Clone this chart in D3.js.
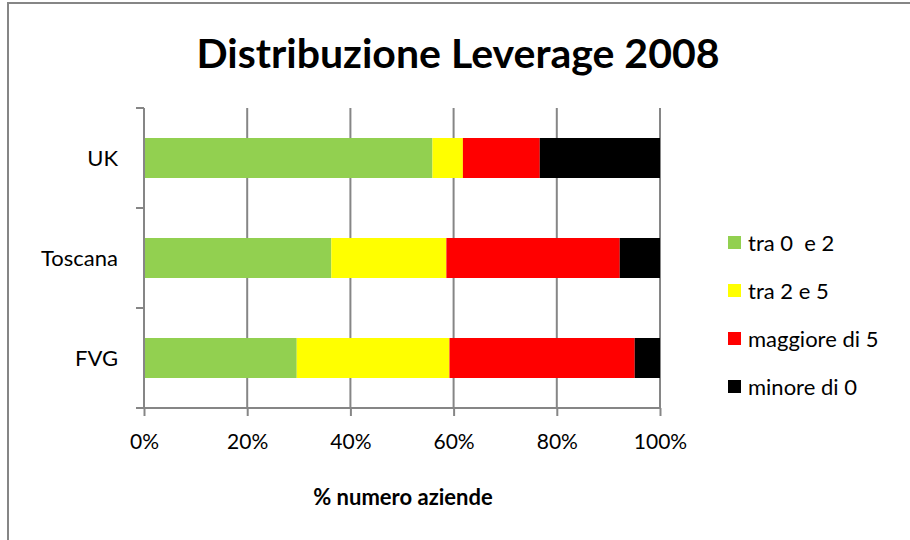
<!DOCTYPE html>
<html lang="en">
<head>
	<meta charset="UTF-8">
	<title>Distribuzione Leverage 2008</title>
	<script src="https://cdn.jsdelivr.net/npm/d3@7/dist/d3.min.js"></script>
	<style>
		body { margin: 0; background: #fff; }
		text { font-family: Lato, "Open Sans", sans-serif; fill: #000; }
	</style>
</head>
<body>
	<div id="vis"></div>

	<script>
		var width = 910;
		var height = 540;

		// data (share of firms, %)
		var categories = ["UK", "Toscana", "FVG"];
		var seriesNames = ["tra 0  e 2", "tra 2 e 5", "maggiore di 5", "minore di 0"];
		var seriesColors = ["#92d050", "#ffff00", "#ff0000", "#000000"];
		var tra0e2 = [55.9, 36.3, 29.6];
		var tra2e5 = [5.9, 22.3, 29.6];
		var maggiore5 = [14.9, 33.6, 35.9];
		var minore0 = [23.3, 7.8, 4.9];
		var xTicks = [0, 20, 40, 60, 80, 100];

		var seriesValues = [tra0e2, tra2e5, maggiore5, minore0];

		var svg = d3.select("#vis").append("svg")
				.attr("width", width)
				.attr("height", height);

		// outer chart frame (only top/left visible)
		svg.append("rect")
			.attr("x", 8)
			.attr("y", 3)
			.attr("width", 940)
			.attr("height", 580)
			.attr("fill", "none")
			.attr("stroke", "#868686")
			.attr("stroke-width", 2);

		var plot = { left: 144, right: 660, top: 108, bottom: 408 };

		var x = d3.scaleLinear()
				.domain([0, 100])
				.range([plot.left, plot.right]);

		var y = d3.scaleBand()
				.domain(categories)
				.range([plot.top, plot.bottom])
				.paddingInner(0.6)
				.paddingOuter(0.3);

		// vertical grid lines
		svg.append("g")
			.selectAll("line")
			.data(xTicks)
			.enter().append("line")
			.attr("x1", function(d) { return x(d); })
			.attr("x2", function(d) { return x(d); })
			.attr("y1", plot.top)
			.attr("y2", plot.bottom)
			.attr("stroke", "#868686")
			.attr("stroke-width", 2);

		// stack the series
		var rows = categories.map(function(c, i) {
			var r = { cat: c };
			seriesNames.forEach(function(s, j) { r[s] = seriesValues[j][i]; });
			return r;
		});
		var stacked = d3.stack().keys(seriesNames)(rows);

		svg.append("g")
			.selectAll("g")
			.data(stacked)
			.enter().append("g")
			.attr("fill", function(d, i) { return seriesColors[i]; })
			.selectAll("rect")
			.data(function(d) { return d; })
			.enter().append("rect")
			.attr("x", function(d) { return x(d[0]); })
			.attr("width", function(d) { return x(d[1]) - x(d[0]); })
			.attr("y", function(d) { return y(d.data.cat); })
			.attr("height", y.bandwidth());

		// x axis
		var xAxis = svg.append("g")
			.attr("transform", "translate(0," + plot.bottom + ")")
			.call(d3.axisBottom(x)
				.tickValues(xTicks)
				.tickSize(8)
				.tickPadding(18)
				.tickFormat(function(d) { return d + "%"; }));
		xAxis.select(".domain").attr("stroke", "#868686").attr("stroke-width", 2)
			.attr("d", "M" + (plot.left - 8) + ",0H" + plot.right);
		xAxis.selectAll(".tick line").attr("stroke", "#868686").attr("stroke-width", 2);
		xAxis.selectAll(".tick text")
			.style("font-size", "21px")
			.style("font-family", "Lato, 'Open Sans', sans-serif")
			.attr("fill", "#000");

		// y axis: ticks between categories
		var yTickPos = [plot.top, plot.top + 100, plot.top + 200, plot.bottom];
		var yAxis = svg.append("g");
		yAxis.append("line")
			.attr("x1", plot.left).attr("x2", plot.left)
			.attr("y1", plot.top).attr("y2", plot.bottom)
			.attr("stroke", "#868686").attr("stroke-width", 2);
		yAxis.selectAll("line.tk")
			.data(yTickPos)
			.enter().append("line")
			.attr("class", "tk")
			.attr("x1", plot.left - 8).attr("x2", plot.left)
			.attr("y1", function(d) { return d; })
			.attr("y2", function(d) { return d; })
			.attr("stroke", "#868686").attr("stroke-width", 2);
		yAxis.selectAll("text")
			.data(categories)
			.enter().append("text")
			.attr("x", 118)
			.attr("y", function(d) { return y(d) + y.bandwidth() / 2; })
			.attr("dy", "0.35em")
			.attr("text-anchor", "end")
			.style("font-size", "22px")
			.text(function(d) { return d; });

		// title
		svg.append("text")
			.attr("x", 458)
			.attr("y", 68)
			.attr("text-anchor", "middle")
			.style("font-size", "41px")
			.style("font-weight", "bold")
			.text("Distribuzione Leverage 2008");

		// axis title
		svg.append("text")
			.attr("x", 403)
			.attr("y", 505)
			.attr("text-anchor", "middle")
			.style("font-size", "22px")
			.style("font-weight", "bold")
			.text("% numero aziende");

		// legend
		var legend = svg.append("g")
			.selectAll("g")
			.data(seriesNames)
			.enter().append("g")
			.attr("transform", function(d, i) { return "translate(728," + (243 + i * 48) + ")"; });
		legend.append("rect")
			.attr("x", 0).attr("y", -7)
			.attr("width", 13).attr("height", 13)
			.attr("fill", function(d, i) { return seriesColors[i]; });
		legend.append("text")
			.attr("x", 20)
			.attr("y", 0)
			.attr("dy", "0.35em")
			.style("font-size", "22px")
			.style("white-space", "pre")
			.attr("xml:space", "preserve")
			.text(function(d) { return d; });
	</script>
</body>
</html>
